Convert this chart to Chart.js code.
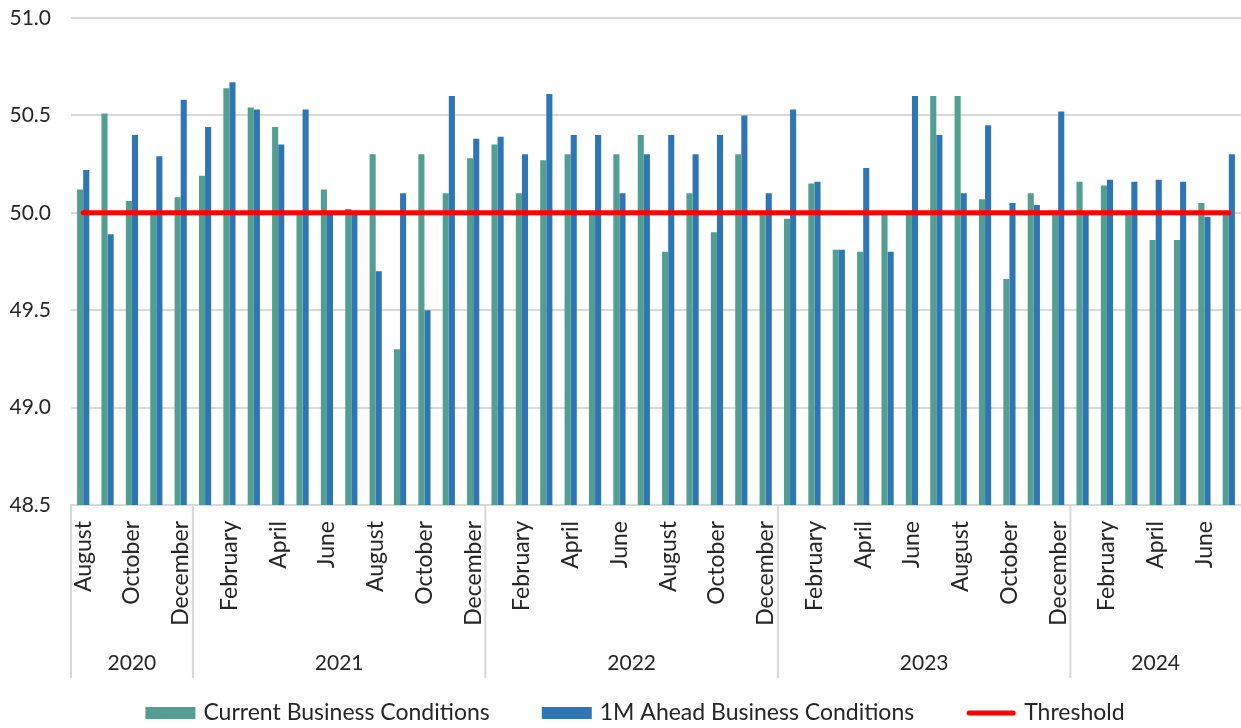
<!DOCTYPE html>
<html lang="en">
<head>
    <meta charset="UTF-8">
    <title>Business Conditions</title>
    <script src="https://cdn.jsdelivr.net/npm/chart.js"></script>
    <style>
        body { margin: 0; background: #ffffff; }
        .caixa { width: 1241px; height: 728px; position: relative; }
    </style>
</head>
<body>
    <div class="caixa">
        <canvas id="myChart"></canvas>
    </div>
<script>
    // months, Aug 2020 -> Jul 2024
    const meses = [
        'July', 'August', 'September', 'October', 'November', 'December',
        'January', 'February', 'March', 'April', 'May', 'June'
    ];
    const anos = ['2020', '2021', '2022', '2023', '2024'];
    const mesesPorAno = [5, 12, 12, 12, 7];
    const primeiroMes = 1; // index in meses (August)

    const current = [
        50.12, 50.51, 50.06, 50.00, 50.08,
        50.19, 50.64, 50.54, 50.44, 50.00, 50.12, 50.02, 50.30, 49.30, 50.30, 50.10, 50.28,
        50.35, 50.10, 50.27, 50.30, 50.00, 50.30, 50.40, 49.80, 50.10, 49.90, 50.30, 50.00,
        49.97, 50.15, 49.81, 49.80, 50.00, 50.00, 50.60, 50.60, 50.07, 49.66, 50.10, 50.00,
        50.16, 50.14, 50.00, 49.86, 49.86, 50.05, 50.00
    ];
    const ahead = [
        50.22, 49.89, 50.40, 50.29, 50.58,
        50.44, 50.67, 50.53, 50.35, 50.53, 50.00, 50.01, 49.70, 50.10, 49.50, 50.60, 50.38,
        50.39, 50.30, 50.61, 50.40, 50.40, 50.10, 50.30, 50.40, 50.30, 50.40, 50.50, 50.10,
        50.53, 50.16, 49.81, 50.23, 49.80, 50.60, 50.40, 50.10, 50.45, 50.05, 50.04, 50.52,
        50.00, 50.17, 50.16, 50.17, 50.16, 49.98, 50.30
    ];
    const threshold = 50.0;

    // labels of each bar
    let labels = [];
    for (let contador = 0; contador < current.length; contador++) {
        labels.push(meses[(primeiroMes + contador) % 12]);
    }

    const fonte = 'Lato, "Open Sans", sans-serif';
    const cinza = '#d9d9d9';
    const corTexto = '#262626';

    // draws the year row + separators under the month labels, and the legend
    const gruposAno = {
        id: 'gruposAno',
        afterDraw(chart) {
            const ctx = chart.ctx;
            const x = chart.scales.x;
            const area = chart.chartArea;
            const passo = x.getPixelForValue(1) - x.getPixelForValue(0);
            let inicio = 0;
            ctx.save();
            ctx.strokeStyle = cinza;
            ctx.lineWidth = 2;
            ctx.fillStyle = corTexto;
            ctx.font = '21px ' + fonte;
            ctx.textAlign = 'center';
            ctx.textBaseline = 'middle';
            for (let i = 0; i < anos.length; i++) {
                const esq = x.getPixelForValue(inicio) - passo / 2;
                const dir = x.getPixelForValue(inicio + mesesPorAno[i] - 1) + passo / 2;
                ctx.beginPath();
                ctx.moveTo(esq, area.bottom);
                ctx.lineTo(esq, area.bottom + 173);
                ctx.stroke();
                ctx.fillText(anos[i], (esq + dir) / 2, 663);
                inicio += mesesPorAno[i];
            }

            // legend
            ctx.font = '23px ' + fonte;
            ctx.textAlign = 'left';
            const caixa = 50, folga = 8, espaco = 52, yLeg = 713;
            const itens = chart.data.datasets;
            let total = 0;
            itens.forEach((d, i) => {
                total += caixa + folga + ctx.measureText(d.label).width + (i > 0 ? espaco : 0);
            });
            let px = 635 - total / 2;
            itens.forEach((d) => {
                if (d.type === 'line') {
                    ctx.strokeStyle = d.borderColor;
                    ctx.lineWidth = d.borderWidth;
                    ctx.lineCap = 'round';
                    ctx.beginPath();
                    ctx.moveTo(px + 3, yLeg);
                    ctx.lineTo(px + caixa - 3, yLeg);
                    ctx.stroke();
                } else {
                    ctx.fillStyle = d.backgroundColor;
                    ctx.fillRect(px, yLeg - 6, caixa, 12);
                }
                ctx.fillStyle = corTexto;
                ctx.fillText(d.label, px + caixa + folga, yLeg);
                px += caixa + folga + ctx.measureText(d.label).width + espaco;
            });
            ctx.restore();
        }
    };

    const dados = {
        labels: labels,
        datasets: [{
            type: 'bar',
            label: 'Current Business Conditions',
            data: current,
            backgroundColor: '#529E92',
            order: 1
        }, {
            type: 'bar',
            label: '1M Ahead Business Conditions',
            data: ahead,
            backgroundColor: '#2E75B6',
            order: 1
        }, {
            type: 'line',
            label: 'Threshold',
            data: labels.map(() => threshold),
            borderColor: '#FF0000',
            backgroundColor: '#FF0000',
            borderWidth: 5,
            borderCapStyle: 'round',
            pointRadius: 0,
            order: 0
        }]
    };

    const config = {
        data: dados,
        options: {
            responsive: true,
            maintainAspectRatio: false,
            animation: false,
            categoryPercentage: 0.5,
            barPercentage: 1.0,
            layout: { padding: { top: 18, left: 0, right: 0, bottom: 80 } },
            plugins: {
                tooltip: { enabled: false },
                legend: { display: false }
            },
            scales: {
                x: {
                    grid: { display: false, drawTicks: false },
                    border: { display: true, color: cinza, width: 2 },
                    afterFit(scale) {
                        scale.height = 143;
                        scale.paddingLeft = 0;
                        scale.paddingRight = 0;
                    },
                    ticks: {
                        autoSkip: false,
                        minRotation: 90,
                        maxRotation: 90,
                        padding: 16,
                        color: corTexto,
                        font: { family: fonte, size: 23 },
                        callback: function (valor, indice) {
                            return indice % 2 === 0 ? labels[indice] : '';
                        }
                    }
                },
                y: {
                    min: 48.5,
                    max: 51.0,
                    grid: { color: cinza, lineWidth: 2, drawTicks: false },
                    border: { display: false },
                    afterFit(scale) {
                        scale.width = 71;
                        scale.paddingTop = 0;
                        scale.paddingBottom = 0;
                    },
                    ticks: {
                        stepSize: 0.5,
                        padding: 20,
                        color: corTexto,
                        font: { family: fonte, size: 21 },
                        callback: (v) => v.toFixed(1)
                    }
                }
            }
        },
        plugins: [gruposAno]
    };

    let myChart = new Chart(document.getElementById('myChart'), config);
</script>
</body>
</html>
